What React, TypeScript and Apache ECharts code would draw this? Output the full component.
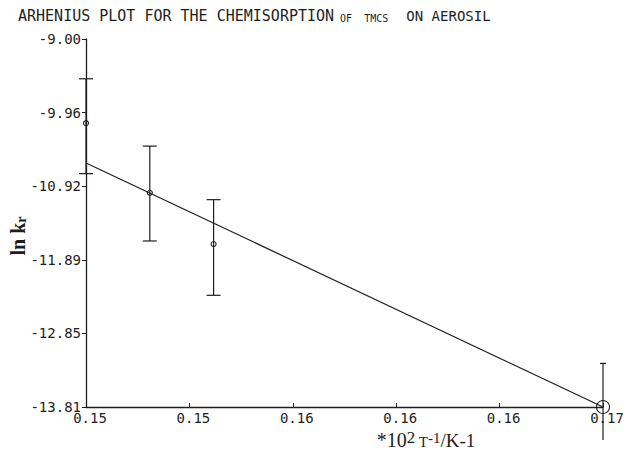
import React, { useEffect, useRef } from "react";
import * as echarts from "echarts";

// Data
const xValues = [0.1457, 0.1486, 0.1515, 0.1692];
const lnK = [-10.1, -11.01, -11.68, -13.81];
const errHigh = [-9.52, -10.4, -11.1, -13.24];
const errLow = [-10.76, -11.64, -12.35, -14.24];
const fitX = [0.1457, 0.1692];
const fitY = [-10.62, -13.81];
const xTicks = [0.1457, 0.1504, 0.1551, 0.1598, 0.1645, 0.1692];
const yTicks = [-13.81, -12.848, -11.886, -10.924, -9.962, -9.0];

const INK = "#1e1e1e";
const MONO = "'DejaVu Sans Mono', monospace";
const SERIF = "'Liberation Serif', 'DejaVu Serif', serif";

export default function App() {
  const ref = useRef<HTMLDivElement>(null);
  useEffect(() => {
    if (!ref.current) return;
    const chart = echarts.init(ref.current, null, { renderer: "svg" });
    const points = xValues.map((x, i) => [x, lnK[i]]);
    const bars = xValues.map((x, i) => [x, lnK[i], errLow[i], errHigh[i]]);
    const fit = fitX.map((x, i) => [x, fitY[i]]);
    chart.setOption({
      animation: false,
      backgroundColor: "#fff",
      grid: { left: 86, right: 26, top: 39, bottom: 44, containLabel: false },
      xAxis: {
        type: "value",
        min: xTicks[0],
        max: xTicks[xTicks.length - 1],
        splitLine: { show: false },
        axisLine: { show: true, onZero: false, lineStyle: { color: INK, width: 1.3 } },
        axisTick: { show: true, inside: true, length: 4, customValues: xTicks, lineStyle: { color: INK } },
        axisLabel: {
          customValues: xTicks,
          formatter: (v: number) => v.toFixed(2),
          fontFamily: MONO,
          fontSize: 14,
          lineHeight: 14,
          color: INK,
          margin: 4,
          padding: [0, 0, 0, 8],
          showMinLabel: true,
          showMaxLabel: true,
        },
      },
      yAxis: {
        type: "value",
        min: yTicks[0],
        max: yTicks[yTicks.length - 1],
        splitLine: { show: false },
        axisLine: { show: true, onZero: false, lineStyle: { color: INK, width: 1.3 } },
        axisTick: { show: true, inside: false, length: 4, customValues: yTicks, lineStyle: { color: INK } },
        axisLabel: {
          customValues: yTicks,
          formatter: (v: number) => v.toFixed(2),
          fontFamily: MONO,
          fontSize: 14,
          color: INK,
          margin: 5,
          showMinLabel: true,
          showMaxLabel: true,
        },
      },
      graphic: [
        {
          type: "text",
          left: 18,
          top: 8,
          style: {
            text: "{a|ARHENIUS PLOT FOR THE CHEMISORPTION}{b| OF  TMCS   }{c|ON AEROSIL}",
            rich: {
              a: { fontFamily: MONO, fontSize: 15, fill: INK, lineHeight: 16, verticalAlign: "bottom" },
              b: { fontFamily: MONO, fontSize: 10, fill: INK, lineHeight: 16, verticalAlign: "bottom" },
              c: { fontFamily: MONO, fontSize: 14, fill: INK, lineHeight: 16, verticalAlign: "bottom" },
            },
          },
        },
        {
          type: "text",
          x: 17,
          y: 236,
          rotation: Math.PI / 2,
          style: {
            text: "{a|ln k}{s|r}",
            align: "center",
            verticalAlign: "middle",
            rich: {
              a: { fontFamily: SERIF, fontSize: 20, fontWeight: "bold", fill: INK, lineHeight: 22, verticalAlign: "bottom" },
              s: { fontFamily: SERIF, fontSize: 14, fontWeight: "bold", fill: INK, lineHeight: 16, verticalAlign: "bottom" },
            },
          },
        },
        {
          type: "text",
          x: 426,
          y: 442,
          style: {
            text: "{a|*10}{p|2}{t| T}{q|-1}{b|/K-1}",
            align: "center",
            verticalAlign: "middle",
            rich: {
              a: { fontFamily: SERIF, fontSize: 20, fill: INK, lineHeight: 15, verticalAlign: "bottom" },
              p: { fontFamily: SERIF, fontSize: 17, fill: INK, lineHeight: 12, verticalAlign: "bottom", padding: [0, 0, 4, 0] },
              t: { fontFamily: SERIF, fontSize: 15, fill: INK, lineHeight: 13, verticalAlign: "bottom" },
              q: { fontFamily: SERIF, fontSize: 15, fill: INK, lineHeight: 12, verticalAlign: "bottom", padding: [0, 0, 4, 0] },
              b: { fontFamily: SERIF, fontSize: 19, fill: INK, lineHeight: 15, verticalAlign: "bottom" },
            },
          },
        },
      ],
      series: [
        {
          type: "line",
          data: fit,
          symbol: "none",
          lineStyle: { color: INK, width: 1.2 },
          z: 2,
        },
        {
          type: "custom",
          data: bars,
          z: 3,
          renderItem: (params: any, api: any) => {
            const x = api.value(0);
            const top = api.coord([x, api.value(3)]);
            const bot = api.coord([x, api.value(2)]);
            const last = params.dataIndex === xValues.length - 1;
            const hwTop = last ? 3 : 7;
            const children: any[] = [
              { type: "line", shape: { x1: top[0], y1: top[1], x2: bot[0], y2: bot[1] }, style: { stroke: INK, lineWidth: 1.2 } },
              { type: "line", shape: { x1: top[0] - hwTop, y1: top[1], x2: top[0] + hwTop, y2: top[1] }, style: { stroke: INK, lineWidth: 1.2 } },
            ];
            if (!last) {
              children.push({ type: "line", shape: { x1: bot[0] - 7, y1: bot[1], x2: bot[0] + 7, y2: bot[1] }, style: { stroke: INK, lineWidth: 1.2 } });
            }
            return { type: "group", children };
          },
        },
        {
          type: "scatter",
          data: points,
          symbol: "circle",
          symbolSize: (_v: any, p: any) => (p.dataIndex === xValues.length - 1 ? 13 : 5),
          itemStyle: { color: "rgba(0,0,0,0)", borderColor: INK, borderWidth: 1.1, opacity: 1 },
          z: 4,
        },
      ],
    });
    return () => chart.dispose();
  }, []);
  return (
    <div
      ref={ref}
      style={{ position: "fixed", left: 0, top: 0, width: 629, height: 451, background: "#fff" }}
    />
  );
}
